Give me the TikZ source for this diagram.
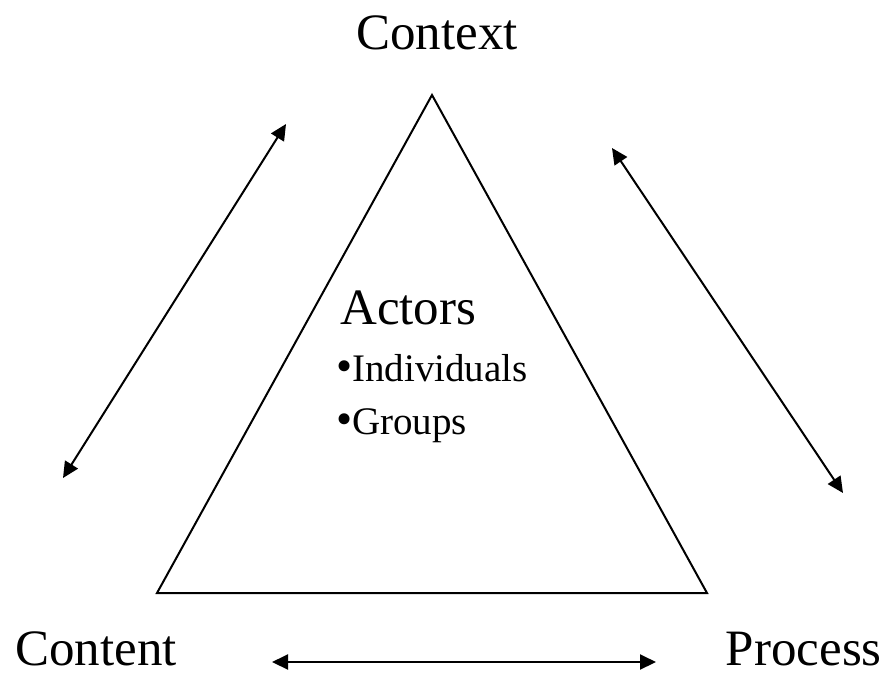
\documentclass[tikz,border=0pt]{standalone}
\usepackage{fontspec}
\setmainfont{Liberation Serif}
\usetikzlibrary{arrows.meta,positioning}

\begin{document}
\begin{tikzpicture}[x=1pt,y=-1pt]
	\tikzstyle{corner}=[font=\fontsize{51}{60}\selectfont, inner sep=0pt]
	\tikzstyle{actor}=[font=\fontsize{51}{58}\selectfont, inner sep=0pt]
	\tikzstyle{item}=[font=\fontsize{39}{44}\selectfont, inner sep=0pt]
	\tikzstyle{link}=[{Triangle[length=16pt,width=15pt]}-{Triangle[length=16pt,width=15pt]}, line width=2pt]
	\tikzstyle{side}=[line width=2pt, line join=miter]

	\useasboundingbox (0,0) rectangle (886,673);

	\coordinate (top) at (432,95);
	\coordinate (bl) at (157,593);
	\coordinate (br) at (707,593);
	\draw[side] (top) -- (bl) -- (br) -- cycle;

	\node (ctx) [corner, anchor=base] at (437,49) {Context};
	\node (cnt) [corner, anchor=base west] at (15,665) {Content};
	\node (prc) [corner, anchor=base east] at (882,665) {Process};

	\node (act) [actor, anchor=base west] at (340,324) {Actors};
	\node (ind) [item, anchor=base west] at (336,381) {{\fontsize{46}{44}\selectfont\textbullet}Individuals};
	\node (grp) [item, anchor=base west] at (336,434) {{\fontsize{46}{44}\selectfont\textbullet}Groups};

	\coordinate (l1) at (286,124);
	\coordinate (l2) at (63,478);
	\coordinate (r1) at (612,148);
	\coordinate (r2) at (843,493);
	\coordinate (b1) at (272,662);
	\coordinate (b2) at (656,662);
	\draw[link] (l1) -- (l2);
	\draw[link] (r1) -- (r2);
	\draw[link] (b1) -- (b2);
\end{tikzpicture}
\end{document}
